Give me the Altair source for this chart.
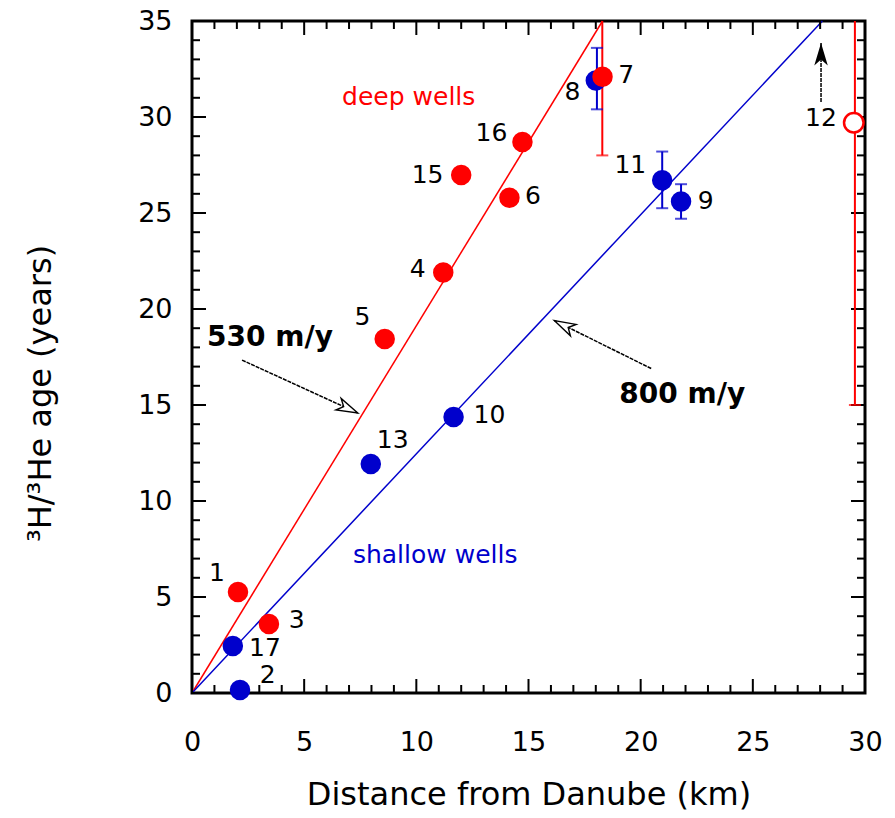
import altair as alt
import pandas as pd

# ---- data ----
well_id = ["1", "3", "5", "4", "15", "6", "16", "7", "12", "2", "17", "13", "10", "8", "11", "9"]
group = ["deep"] * 9 + ["shallow"] * 7
dist_km = [2.05, 3.43, 8.59, 11.2, 12.0, 14.15, 14.73, 18.3, 29.5,
           2.14, 1.82, 7.97, 11.66, 18.0, 20.96, 21.8]
age_yr = [5.26, 3.59, 18.44, 21.9, 26.98, 25.8, 28.7, 32.1, 29.7,
          0.15, 2.45, 11.93, 14.38, 31.9, 26.7, 25.6]
label_x = [1.11, 4.67, 7.6, 10.06, 10.5, 15.2, 13.35, 19.36, 28.04,
           3.38, 3.25, 8.95, 13.26, 16.96, 19.54, 22.9]
label_y = [6.25, 3.8, 19.58, 22.1, 26.98, 25.9, 29.17, 32.2, 29.95,
           0.94, 2.34, 13.2, 14.48, 31.3, 27.5, 25.6]
open_symbol = ["12"]

err_id = ["7", "12", "8", "11", "9"]
err_group = ["deep", "deep", "shallow", "shallow", "shallow"]
err_x = [18.29, 29.55, 18.05, 20.96, 21.8]
err_lo = [28.0, 15.0, 30.4, 25.25, 24.7]
err_hi = [35.0, 35.0, 33.6, 28.2, 26.5]

line_name = ["530 m/y", "530 m/y", "800 m/y", "800 m/y"]
line_x = [0, 18.3, 0, 28.1]
line_y = [0, 35, 0, 35]

arrow_name = ["a530", "a530", "a800", "a800", "a12", "a12"]
arrow_x = [2.23, 7.39, 20.47, 16.15, 28.04, 28.04]
arrow_y = [17.34, 14.58, 16.9, 19.4, 30.78, 33.85]

note_text = ["530 m/y", "800 m/y"]
note_x = [0.67, 19.05]
note_y = [18.5, 15.5]

group_text = ["deep wells", "shallow wells"]
group_tx = [9.66, 10.84]
group_ty = [31.04, 7.19]

x_ticks_major = [0, 5, 10, 15, 20, 25, 30]
y_ticks_major = [0, 5, 10, 15, 20, 25, 30, 35]
x_ticks_minor = [v for v in range(0, 31) if v % 5]
y_ticks_minor = [v for v in range(0, 36) if v % 5]

W, H = 673, 672
RED, BLUE = "#ff0000", "#0000cc"
FONT = "DejaVu Sans"

xs = alt.Scale(domain=[0, 30], nice=False, zero=False)
ys = alt.Scale(domain=[0, 35], nice=False, zero=False)
cscale = alt.Scale(domain=["deep", "shallow"], range=[RED, BLUE])

x_axis = alt.Axis(values=x_ticks_major, title="Distance from Danube (km)",
                  labelPadding=36, titlePadding=24, labelFlush=False)
y_axis = alt.Axis(values=y_ticks_major, title="³H/³He age (years)",
                  labelPadding=20, titleX=-152, titleY=372, labelFlush=False,
                  titleAngle=270, titleAlign="center", titleBaseline="middle")


def X(field):
    return alt.X(field, scale=xs, axis=x_axis)


def Y(field):
    return alt.Y(field, scale=ys, axis=y_axis)


wells = pd.DataFrame(dict(id=well_id, group=group, x=dist_km, y=age_yr,
                          lx=label_x, ly=label_y))
wells["open"] = wells["id"].isin(open_symbol)
errs = pd.DataFrame(dict(id=err_id, group=err_group, x=err_x, lo=err_lo, hi=err_hi))
lines = pd.DataFrame(dict(name=line_name, x=line_x, y=line_y))
lines["order"] = list(range(len(lines)))
arrows = pd.DataFrame(dict(name=arrow_name, x=arrow_x, y=arrow_y))
arrows["order"] = list(range(len(arrows)))
notes = pd.DataFrame(dict(t=note_text, x=note_x, y=note_y))
gnotes = pd.DataFrame(dict(t=group_text, x=group_tx, y=group_ty, group=["deep", "shallow"]))

fit_lines = alt.Chart(lines).mark_line(strokeWidth=1.5).encode(
    x=X("x:Q"), y=Y("y:Q"),
    detail="name:N",
    order="order:Q",
    color=alt.Color("name:N", scale=alt.Scale(domain=["530 m/y", "800 m/y"], range=[RED, BLUE]),
                    legend=None),
)

err_rule = alt.Chart(errs).mark_rule(strokeWidth=2).encode(
    x=X("x:Q"), y=Y("lo:Q"), y2="hi:Q",
    color=alt.Color("group:N", scale=cscale, legend=None),
)
cap_lo = alt.Chart(errs).mark_tick(orient="horizontal", size=12, thickness=2).encode(
    x=X("x:Q"), y=Y("lo:Q"),
    color=alt.Color("group:N", scale=cscale, legend=None),
)
cap_hi = alt.Chart(errs).transform_filter(alt.datum.group == "shallow").mark_tick(
    orient="horizontal", size=12, thickness=2).encode(
    x=X("x:Q"), y=Y("hi:Q"),
    color=alt.Color("group:N", scale=cscale, legend=None),
)


def points(grp):
    return alt.Chart(wells).transform_filter(
        (alt.datum.group == grp) & (alt.datum.open == False)
    ).mark_circle(size=420, opacity=1).encode(
        x=X("x:Q"), y=Y("y:Q"),
        color=alt.Color("group:N", scale=cscale, legend=None),
    )


open_pts = alt.Chart(wells).transform_filter(alt.datum.open == True).mark_point(
    size=380, filled=False, fill="white", fillOpacity=1, strokeWidth=2.5, color=RED, opacity=1
).encode(x=X("x:Q"), y=Y("y:Q"))

well_labels = alt.Chart(wells).mark_text(font=FONT, fontSize=25, color="black",
                                         align="center", baseline="middle").encode(
    x=X("lx:Q"), y=Y("ly:Q"), text="id:N",
)

arrow_lines = alt.Chart(arrows).mark_line(color="black", strokeWidth=1.5, strokeDash=[4, 1]).encode(
    x=X("x:Q"), y=Y("y:Q"),
    detail="name:N",
    order="order:Q",
)


def head(name, angle, filled, size):
    d = arrows[arrows["name"] == name].iloc[[-1]]
    return alt.Chart(d).mark_point(
        shape="M0,0 L-0.45,1.5 L0,1.1 L0.45,1.5 Z", size=size, angle=angle,
        filled=filled, fill="black" if filled else "white", fillOpacity=1,
        color="black", strokeWidth=1.4, opacity=1,
    ).encode(x=X("x:Q"), y=Y("y:Q"))


notes_layer = alt.Chart(notes).mark_text(font=FONT, fontSize=28, fontWeight="bold",
                                         color="black", align="left", baseline="middle").encode(
    x=X("x:Q"), y=Y("y:Q"), text="t:N",
)
gnotes_layer = alt.Chart(gnotes).mark_text(font=FONT, fontSize=25, align="center",
                                           baseline="middle").encode(
    x=X("x:Q"), y=Y("y:Q"), text="t:N",
    color=alt.Color("group:N", scale=cscale, legend=None),
)

MAJ, MIN = 14, 8


def xticks(vals, length, side):
    d = pd.DataFrame(dict(v=vals))
    if side == "bottom":
        yy, yy2 = H, H - length
    else:
        yy, yy2 = 0, length
    return alt.Chart(d).mark_rule(color="black", strokeWidth=2).encode(
        x=X("v:Q"), y=alt.value(yy), y2=alt.value(yy2))


def yticks(vals, length, side):
    d = pd.DataFrame(dict(v=vals))
    if side == "left":
        xx, xx2 = 0, length
    else:
        xx, xx2 = W, W - length
    return alt.Chart(d).mark_rule(color="black", strokeWidth=2).encode(
        y=Y("v:Q"), x=alt.value(xx), x2=alt.value(xx2))


tick_layers = []
for side in ["bottom", "top"]:
    tick_layers.append(xticks(x_ticks_major, MAJ, side))
    tick_layers.append(xticks(x_ticks_minor, MIN, side))
for side in ["left", "right"]:
    tick_layers.append(yticks(y_ticks_major, MAJ, side))
    tick_layers.append(yticks(y_ticks_minor, MIN, side))

chart = alt.layer(
    fit_lines, *tick_layers, err_rule, cap_lo, cap_hi,
    points("shallow"), points("deep"), open_pts,
    arrow_lines, head("a530", 114.6, False, 800), head("a800", 296.8, False, 800),
    head("a12", 0, True, 900),
    notes_layer, gnotes_layer, well_labels,
).properties(
    width=W, height=H,
    autosize=alt.AutoSizeParams(type="none"),
    padding={"left": 184, "top": 13, "right": 20, "bottom": 124},
).configure_view(
    stroke="black", strokeWidth=3,
).configure_axis(
    grid=False, domain=False, ticks=False,
    labelFont=FONT, labelFontSize=27, labelColor="black",
    titleFont=FONT, titleFontSize=32, titleFontWeight="normal", titleColor="black",
).resolve_scale(color="independent")

chart.save("out.html", embed_options={"renderer": "svg", "actions": False})
